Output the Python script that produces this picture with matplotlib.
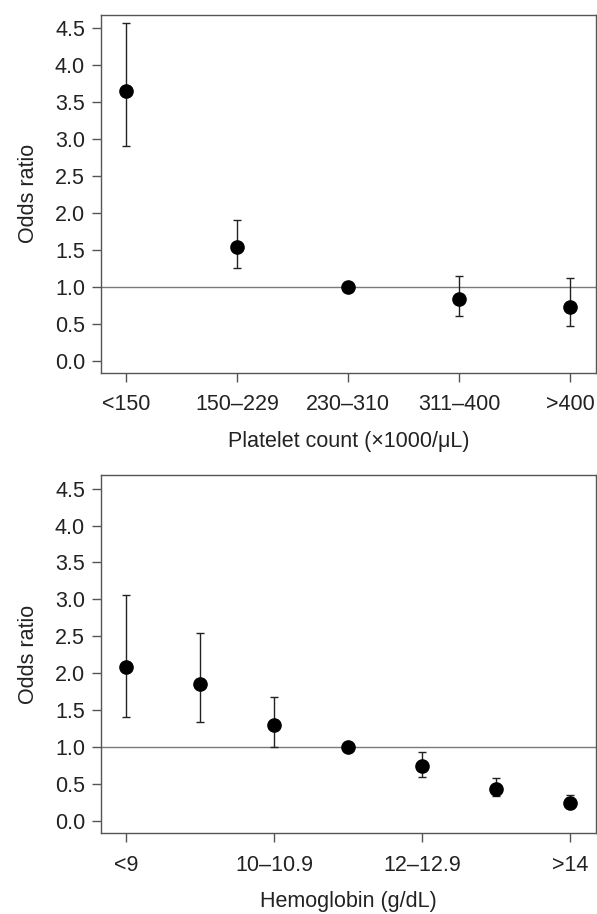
import numpy as np
import matplotlib.pyplot as plt

plt.rcParams['font.family'] = ['Liberation Sans', 'DejaVu Sans']

# platelet count panel
plt_labels = ['<150', '150\u2013229', '230\u2013310', '311\u2013400', '>400']
plt_or = [3.65, 1.545, 1.0, 0.84, 0.725]
plt_lo = [2.91, 1.26, 1.0, 0.61, 0.48]
plt_hi = [4.57, 1.905, 1.0, 1.15, 1.12]

# hemoglobin panel (7 groups, only every other one labelled)
hb_groups = ['<9', '9\u20139.9', '10\u201310.9', '11\u201311.9', '12\u201312.9', '13\u201313.9', '>14']
hb_labelled = ['<9', '10\u201310.9', '12\u201312.9', '>14']
hb_or = [2.085, 1.85, 1.30, 1.0, 0.75, 0.43, 0.25]
hb_lo = [1.41, 1.34, 1.01, 1.0, 0.60, 0.34, 0.20]
hb_hi = [3.06, 2.54, 1.685, 1.0, 0.93, 0.58, 0.36]

yticks = [0.0, 0.5, 1.0, 1.5, 2.0, 2.5, 3.0, 3.5, 4.0, 4.5]

fig = plt.figure(figsize=(5.97, 9.14), dpi=100)
ax1 = fig.add_axes([0.169, 0.592, 0.829, 0.392])
ax2 = fig.add_axes([0.169, 0.0886, 0.829, 0.3914])

def panel(ax, groups, ors, lo, hi, ticklabels, xlim, xlabel):
	x = np.arange(len(ors))
	ors = np.array(ors); lo = np.array(lo); hi = np.array(hi)
	ax.axhline(1.0, color='#7a7a7a', lw=1.0, zorder=1)
	ax.errorbar(x, ors, yerr=[ors - lo, hi - ors], fmt='o', color='black',
		ms=9.5, ecolor='#222222', elinewidth=1.0, capsize=3, capthick=1.0, zorder=3)
	ax.set_xlim(*xlim)
	ax.set_ylim(-0.16, 4.68)
	ax.set_xticks([groups.index(t) for t in ticklabels])
	ax.set_xticklabels(ticklabels)
	ax.set_yticks(yticks)
	ax.set_yticklabels(['%.1f' % v for v in yticks])
	for s in ax.spines.values():
		s.set_color('#555555')
		s.set_linewidth(1.0)
	ax.tick_params(direction='out', length=6.5, width=1.0, color='#555555',
		labelsize=15.5, labelcolor='#222222', pad=5)
	ax.tick_params(axis='x', pad=9)
	ax.set_ylabel('Odds ratio', fontsize=15.5, color='#222222', labelpad=11)
	ax.set_xlabel(xlabel, fontsize=15.5, color='#222222', labelpad=11)

panel(ax1, plt_labels, plt_or, plt_lo, plt_hi, plt_labels, (-0.225, 4.23), 'Platelet count (\u00d71000/\u03bcL)')
panel(ax2, hb_groups, hb_or, hb_lo, hb_hi, hb_labelled, (-0.34, 6.35), 'Hemoglobin (g/dL)')

fig.savefig('out.png', dpi=100)
